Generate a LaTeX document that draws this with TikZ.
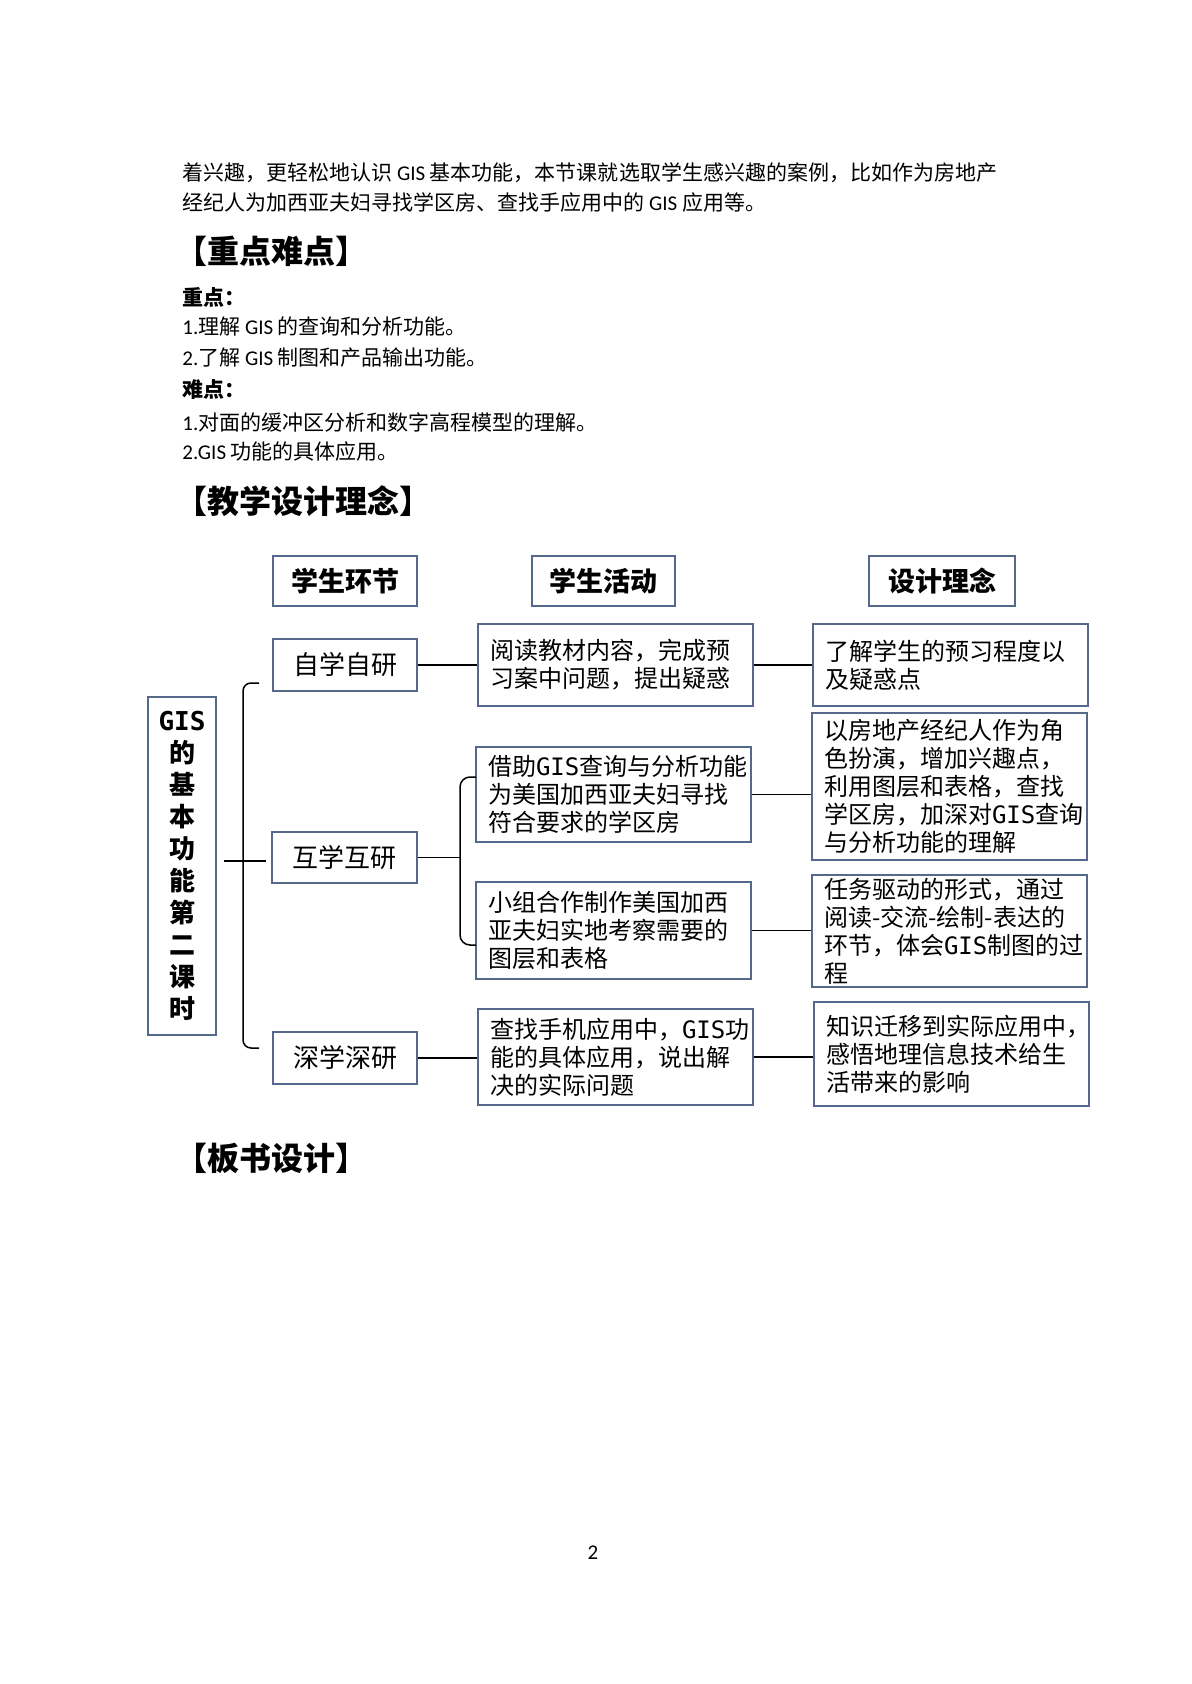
\documentclass[tikz,border=0pt]{standalone}
\usepackage{fontspec}
\setmainfont{Noto Sans CJK SC}
\newfontfamily\latf{Carlito}
\newfontfamily\gisf{DejaVu Sans Mono}
\definecolor{bxc}{HTML}{55698A}
\begin{document}
\begin{tikzpicture}[x=0.5pt,y=-0.5pt,
  bx/.style={draw=bxc, line width=0.75pt, inner sep=0pt, inner xsep=6pt, align=left,
    font=\fontsize{12pt}{14pt}\selectfont},
  hd/.style={draw=bxc, line width=0.75pt, inner sep=0pt, align=center,
    font=\fontsize{13.5pt}{16pt}\selectfont\bfseries},
  sb/.style={draw=bxc, line width=0.75pt, inner sep=0pt, align=center,
    font=\fontsize{13pt}{16pt}\selectfont},
  ln/.style={line width=0.75pt, black},
  body/.style={anchor=west, inner sep=0pt, font=\fontsize{10.5pt}{12pt}\selectfont},
  bodyb/.style={anchor=west, inner sep=0pt, font=\fontsize{10.5pt}{12pt}\selectfont\bfseries},
  head/.style={anchor=west, inner sep=0pt, font=\fontsize{16pt}{18pt}\selectfont\bfseries}]
\useasboundingbox[fill=white] (0,0) rectangle (1191,1684);

% body text
\node[body] (t1) at (182,173) {着兴趣，更轻松地认识 {\latf GIS} 基本功能，本节课就选取学生感兴趣的案例，比如作为房地产};
\node[body] (t2) at (182,203) {经纪人为加西亚夫妇寻找学区房、查找手应用中的 {\latf GIS} 应用等。};
\node[head] (k1) at (175,251) {【重点难点】};
\node[bodyb] (t3) at (182,297) {重点：};
\node[body] (t4) at (182,327) {{\latf 1.}理解 {\latf GIS} 的查询和分析功能。};
\node[body] (t5) at (182,358) {{\latf 2.}了解 {\latf GIS} 制图和产品输出功能。};
\node[bodyb] (t6) at (182,390) {难点：};
\node[body] (t7) at (182,422) {{\latf 1.}对面的缓冲区分析和数字高程模型的理解。};
\node[body] (t8) at (182,452) {{\latf 2.GIS} 功能的具体应用。};
\node[head] (k2) at (175,501) {【教学设计理念】};
\node[head] (k3) at (175,1158) {【板书设计】};
\node[inner sep=0pt, font=\latf\fontsize{10.5pt}{12pt}\selectfont] (pg) at (593,1553) {2};

% header boxes
\node[hd, minimum width=72pt, minimum height=25pt] (h1) at (345,581) {学生环节};
\node[hd, minimum width=71.5pt, minimum height=25pt] (h2) at (603.5,581) {学生活动};
\node[hd, minimum width=73pt, minimum height=25pt] (h3) at (942,581) {设计理念};

% column 1
\node[hd, minimum width=34pt, minimum height=169pt, font=\fontsize{13pt}{16pt}\selectfont\bfseries] (gis) at (182,866)
  {{\gisf GIS}\\的\\基\\本\\功\\能\\第\\二\\课\\时};
\node[sb, minimum width=72pt, minimum height=26pt] (s1) at (345,665) {自学自研};
\node[sb, minimum width=72.5pt, minimum height=25.5pt] (s2) at (344.5,857.5) {互学互研};
\node[sb, minimum width=72pt, minimum height=26pt] (s3) at (345,1058) {深学深研};

% column 2
\node[bx, minimum width=137.5pt, minimum height=41pt, text width=125.5pt] (a1) at (615.5,665)
  {阅读教材内容，完成预\\习案中问题，提出疑惑};
\node[bx, minimum width=137.5pt, minimum height=47.5pt, text width=125.5pt] (a2) at (613.5,794.5)
  {借助{\gisf GIS}查询与分析功能\\为美国加西亚夫妇寻找\\符合要求的学区房};
\node[bx, minimum width=137.5pt, minimum height=48.5pt, text width=125.5pt] (a3) at (613.5,930.5)
  {小组合作制作美国加西\\亚夫妇实地考察需要的\\图层和表格};
\node[bx, minimum width=137.5pt, minimum height=48pt, text width=125.5pt] (a4) at (615.5,1057)
  {查找手机应用中，{\gisf GIS}功\\能的具体应用，说出解\\决的实际问题};

% column 3
\node[bx, minimum width=137.5pt, minimum height=41pt, text width=125.5pt] (c1) at (950.5,665)
  {了解学生的预习程度以\\及疑惑点};
\node[bx, minimum width=137.5pt, minimum height=73.5pt, text width=125.5pt] (c2) at (949.5,786.5)
  {以房地产经纪人作为角\\色扮演，增加兴趣点，\\利用图层和表格，查找\\学区房，加深对{\gisf GIS}查询\\与分析功能的理解};
\node[bx, minimum width=137.5pt, minimum height=56pt, text width=125.5pt] (c3) at (949.5,931)
  {任务驱动的形式，通过\\阅读-交流-绘制-表达的\\环节，体会{\gisf GIS}制图的过\\程};
\node[bx, minimum width=137.5pt, minimum height=52pt, text width=125.5pt] (c4) at (951.5,1054)
  {知识迁移到实际应用中，\\感悟地理信息技术给生\\活带来的影响};

% connectors
\coordinate (j1) at (243,861);
\draw[ln, shorten <=3.5pt, shorten >=2.5pt] (gis.east |- j1) -- (s2.west |- j1);
\coordinate (b1t) at (259,683);
\coordinate (b1b) at (259,1048);
\draw[ln, rounded corners=4pt] (b1t) -- ++(-16,0) |- (b1b);

\draw[ln] (s1.east) -- (s1.east -| a1.west);
\coordinate (b2) at (460,857.5);
\draw[ln] (s2.east) -- (b2);
\coordinate (b2t) at (476,777);
\coordinate (b2b) at (476,945);
\draw[ln, rounded corners=5pt] (b2t) -- ++(-16,0) |- (b2b);
\draw[ln] (s3.east) -- (s3.east -| a4.west);

\draw[ln] (a1.east) -- (a1.east -| c1.west);
\draw[ln] (a2.east) -- (a2.east -| c2.west);
\draw[ln] (a3.east) -- (a3.east -| c3.west);
\draw[ln] (a4.east) -- (a4.east -| c4.west);
\end{tikzpicture}
\end{document}
